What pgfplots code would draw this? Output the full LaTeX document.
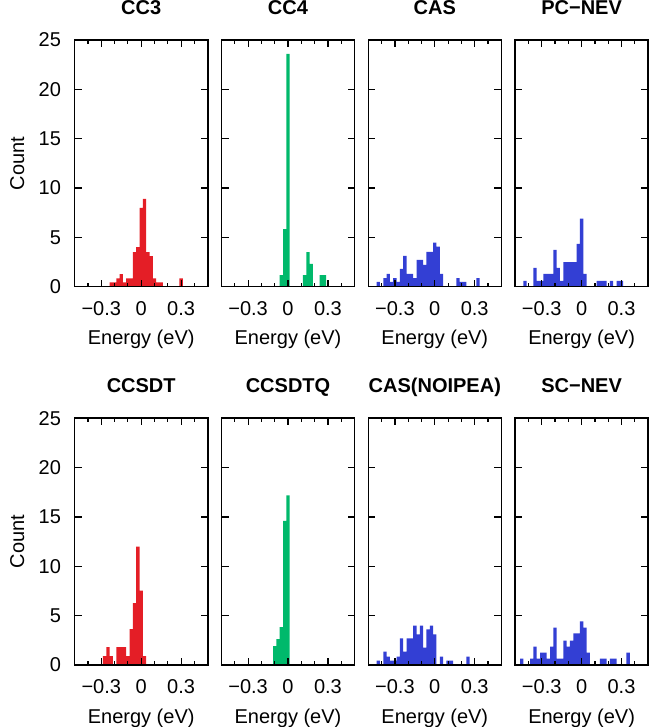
\documentclass[border=0pt]{standalone}
\usepackage{fontspec}
\setmainfont{Liberation Sans}
\usepackage{pgfplots}
\pgfplotsset{compat=1.18}

\definecolor{hred}{RGB}{228,30,38}
\definecolor{hgreen}{RGB}{0,185,107}
\definecolor{hblue}{RGB}{51,63,212}

\newcommand{\fs}{\fontsize{10}{12}\selectfont}

\pgfplotsset{
  panel/.style={
    scale only axis, width=66.5pt, height=123.35pt,
    anchor=south west,
    xmin=-0.5, xmax=0.5, ymin=0, ymax=25,
    xtick={-0.3,0,0.3}, xticklabels={−0.3,0,0.3},
    minor xtick={-0.4,-0.2,-0.1,0.1,0.2,0.4},
    ytick={0,5,10,15,20,25},
    tick align=inside,
    major tick length=3.5pt, minor tick length=2pt,
    axis line style={line width=0.8pt},
    every tick/.style={black, line width=0.6pt},
    axis on top,
    /pgf/number format/assume math mode=true,
    tick label style={font=\fs},
    xticklabel style={anchor=base, yshift=-14.2pt},
    yticklabel style={anchor=east, inner sep=0pt, xshift=-6.7pt},
    xlabel={Energy (eV)},
    every axis x label/.style={at={(axis description cs:0.5,-0.236)}, anchor=base, font=\fs},
    every axis y label/.style={at={(axis description cs:-0.432,0.5)}, rotate=90, anchor=center, font=\fs},
    title style={at={(axis description cs:0.5,1.054)}, anchor=base, font=\bfseries\fs},
  },
  inner/.style={yticklabels={}},
  hist/.style={ybar, bar width=0.025, fill=#1, draw=none},
}

\begin{document}
\begin{tikzpicture}
\useasboundingbox (0,0) rectangle (324.5pt,363.5pt);

% row 1
\begin{axis}[panel, at={(37.35pt,220.15pt)}, title={CC3}, ylabel={Count}]
\addplot[hist=hred] coordinates {(-0.225,0.44) (-0.2,0.44) (-0.175,0.84) (-0.15,1.28) (-0.125,0.44) (-0.1,0.84) (-0.075,0.84) (-0.05,3.5) (-0.025,4.0) (0,8.0) (0.025,8.9) (0.05,3.5) (0.075,3.1) (0.1,0.84) (0.125,0.44) (0.15,0.44) (0.3,0.84)};
\end{axis}
\begin{axis}[panel, inner, at={(110.75pt,220.15pt)}, title={CC4}]
\addplot[hist=hgreen] coordinates {(-0.05,1.18) (-0.025,5.84) (0,23.6) (0.125,1.18) (0.15,3.5) (0.175,2.3) (0.25,1.18) (0.275,1.18)};
\end{axis}
\begin{axis}[panel, inner, at={(184.15pt,220.15pt)}, title={CAS}]
\addplot[hist=hblue] coordinates {(-0.425,0.48) (-0.375,0.88) (-0.35,1.29) (-0.325,0.48) (-0.3,0.88) (-0.275,0.48) (-0.25,1.8) (-0.225,3.13) (-0.2,1.29) (-0.175,1.29) (-0.15,0.88) (-0.125,2.72) (-0.1,2.72) (-0.075,2.2) (-0.05,3.54) (-0.025,3.54) (0,4.46) (0.025,4.05) (0.05,1.29) (0.175,0.88) (0.2,0.48) (0.225,0.48) (0.325,0.88)};
\end{axis}
\begin{axis}[panel, inner, at={(257.55pt,220.15pt)}, title={PC−NEV}]
\addplot[hist=hblue] coordinates {(-0.425,0.58) (-0.35,1.9) (-0.325,0.58) (-0.3,0.58) (-0.275,1.29) (-0.25,1.29) (-0.225,1.29) (-0.2,3.74) (-0.175,1.9) (-0.15,0.58) (-0.125,2.5) (-0.1,2.5) (-0.075,2.5) (-0.05,2.5) (-0.025,4.35) (0,6.9) (0.025,1.29) (0.125,0.58) (0.15,0.58) (0.175,0.58) (0.225,0.58) (0.275,0.58) (0.3,0.58)};
\end{axis}

% row 2
\begin{axis}[panel, at={(37.35pt,31pt)}, title={CCSDT}, ylabel={Count}]
\addplot[hist=hred] coordinates {(-0.275,0.91) (-0.25,1.82) (-0.225,0.91) (-0.175,1.82) (-0.15,1.82) (-0.125,1.82) (-0.1,0.91) (-0.075,3.64) (-0.05,6.26) (-0.025,12.0) (0,7.54) (0.025,0.91)};
\end{axis}
\begin{axis}[panel, inner, at={(110.75pt,31pt)}, title={CCSDTQ}]
\addplot[hist=hgreen] coordinates {(-0.1,1.92) (-0.075,2.63) (-0.05,3.84) (-0.025,14.6) (0,17.2)};
\end{axis}
\begin{axis}[panel, inner, at={(184.15pt,31pt)}, title={CAS(NOIPEA)}]
\addplot[hist=hblue] coordinates {(-0.425,0.44) (-0.375,1.36) (-0.35,0.85) (-0.325,0.44) (-0.3,0.44) (-0.275,0.85) (-0.25,2.69) (-0.225,1.36) (-0.2,2.69) (-0.175,2.69) (-0.15,4.0) (-0.125,3.1) (-0.1,4.0) (-0.075,1.77) (-0.05,3.6) (-0.025,4.0) (0,3.1) (0.05,0.85) (0.1,0.44) (0.125,0.44) (0.25,0.85)};
\end{axis}
\begin{axis}[panel, inner, at={(257.55pt,31pt)}, title={SC−NEV}]
\addplot[hist=hblue] coordinates {(-0.45,0.65) (-0.375,0.65) (-0.35,1.87) (-0.325,0.65) (-0.3,1.26) (-0.275,1.26) (-0.25,0.65) (-0.225,1.87) (-0.2,3.8) (-0.175,0.65) (-0.15,0.65) (-0.125,2.48) (-0.1,1.87) (-0.075,2.48) (-0.05,3.2) (-0.025,3.2) (0,4.42) (0.025,3.8) (0.05,1.26) (0.15,0.65) (0.175,0.65) (0.225,0.65) (0.25,0.65) (0.35,1.26)};
\end{axis}
\end{tikzpicture}
\end{document}
